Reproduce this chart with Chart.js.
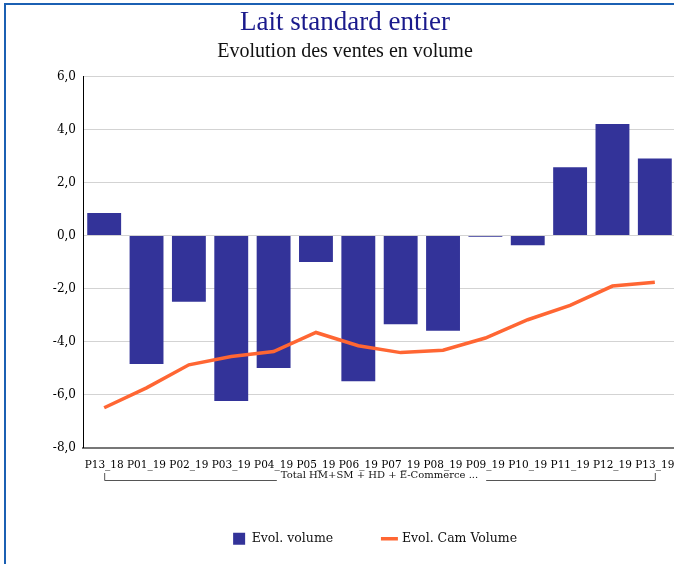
<!DOCTYPE html>
<html>
<head>
<meta charset="utf-8">
<script src="https://cdn.jsdelivr.net/npm/chart.js@4"></script>
<style>
  html, body { margin: 0; padding: 0; background: #fff; overflow: hidden; }
  #wrap { position: relative; width: 674px; height: 564px; overflow: hidden; }
  #frame { position: absolute; left: 4px; top: 3px; width: 720px; height: 600px;
           border-left: 2px solid #1b60b3; border-top: 2px solid #1b60b3; pointer-events: none; }
  #holder { position: absolute; left: 0; top: 0; width: 690px; height: 564px; }
</style>
</head>
<body>
<div id="wrap">
  <div id="holder"><canvas id="ventes" width="690" height="564"></canvas></div>
  <div id="frame"></div>
</div>
<script>
const periods = ['P13_18', 'P01_19', 'P02_19', 'P03_19', 'P04_19', 'P05_19', 'P06_19',
                 'P07_19', 'P08_19', 'P09_19', 'P10_19', 'P11_19', 'P12_19', 'P13_19'];
const evolVolume = [0.85, -4.85, -2.5, -6.25, -5.0, -1.0, -5.5, -3.35, -3.6, -0.05, -0.37, 2.57, 4.2, 2.9];
const evolCamVolume = [-6.5, -5.75, -4.88, -4.57, -4.38, -3.66, -4.16, -4.42, -4.33, -3.87, -3.18, -2.64, -1.91, -1.77];
const groupLabel = 'Total HM+SM + HD + E-Commerce ...';
const yMin = -8, yMax = 6, yStep = 2;

const serif = 'DejaVu Serif';
const fmt = v => v.toFixed(1).replace('.', ',');

// bracket under the period labels with the circuit name
const groupBracket = {
  id: 'groupBracket',
  afterDraw(chart) {
    const x = chart.scales.x;
    const ctx = chart.ctx;
    const left = x.getPixelForValue(0);
    const right = x.getPixelForValue(periods.length - 1);
    const mid = (left + right) / 2;
    const yLine = 480.5, yTop = 473;
    ctx.save();
    ctx.font = '10px "' + serif + '"';
    const tw = ctx.measureText(groupLabel).width;
    ctx.strokeStyle = '#555';
    ctx.lineWidth = 1;
    ctx.beginPath();
    ctx.moveTo(left + 0.5, yTop);
    ctx.lineTo(left + 0.5, yLine);
    ctx.lineTo(mid - tw / 2 - 4, yLine);
    ctx.moveTo(mid + tw / 2 + 8, yLine);
    ctx.lineTo(right + 0.5, yLine);
    ctx.lineTo(right + 0.5, yTop);
    ctx.stroke();
    ctx.fillStyle = '#111';
    ctx.textAlign = 'center';
    ctx.textBaseline = 'middle';
    ctx.fillText(groupLabel, mid, 475);
    ctx.restore();
  }
};

// push the legend row a little to the right
const legendShift = {
  id: 'legendShift',
  afterLayout(chart) {
    chart.legend.left += 30;
    chart.legend.right += 30;
  }
};

new Chart(document.getElementById('ventes'), {
  type: 'bar',
  data: {
    labels: periods,
    datasets: [{
      label: 'Evol. volume',
      data: evolVolume,
      backgroundColor: '#333399',
      barPercentage: 0.8,
      categoryPercentage: 1.0,
      order: 1,
      pointStyle: 'rect'
    }, {
      type: 'line',
      label: 'Evol. Cam Volume',
      data: evolCamVolume,
      borderColor: '#ff6633',
      backgroundColor: '#ff6633',
      borderWidth: 3.5,
      pointRadius: 0,
      tension: 0,
      order: 0,
      pointStyle: 'line'
    }]
  },
  options: {
    responsive: false,
    animation: false,
    layout: { padding: { left: 0, right: 0, top: 0, bottom: 9 } },
    plugins: {
      title: {
        display: true,
        text: 'Lait standard entier',
        color: '#1a1a8c',
        font: { family: 'Liberation Serif', size: 27, weight: 'normal' },
        padding: { top: 7, bottom: 0 }
      },
      subtitle: {
        display: true,
        text: 'Evolution des ventes en volume',
        color: '#111',
        font: { family: 'Liberation Serif', size: 20, weight: 'normal' },
        padding: { top: 0, bottom: 13 }
      },
      legend: {
        position: 'bottom',
        labels: {
          usePointStyle: true,
          boxHeight: 12,
          padding: 50,
          color: '#111',
          font: { family: serif, size: 12.5 },
          sort: (a, b) => a.datasetIndex - b.datasetIndex
        }
      },
      tooltip: { enabled: false }
    },
    scales: {
      x: {
        grid: { display: false },
        border: { display: true, color: '#777', width: 2 },
        ticks: { color: '#000', font: { family: serif, size: 10.5 }, padding: 3, maxRotation: 0, autoSkip: false },
        afterFit: s => { s.height = 35; }
      },
      y: {
        min: yMin,
        max: yMax,
        grid: { color: '#d3d3d3', drawTicks: false },
        border: { display: true, color: '#000', width: 1 },
        ticks: { stepSize: yStep, color: '#000', font: { family: serif, size: 12 }, padding: 7, callback: v => fmt(v) },
        afterFit: s => { s.width = 83; }
      },
      yRight: {
        position: 'right',
        display: true,
        grid: { display: false },
        border: { display: false },
        ticks: { display: false },
        afterFit: s => { s.width = 14; }
      }
    }
  },
  plugins: [groupBracket, legendShift]
});
</script>
</body>
</html>
